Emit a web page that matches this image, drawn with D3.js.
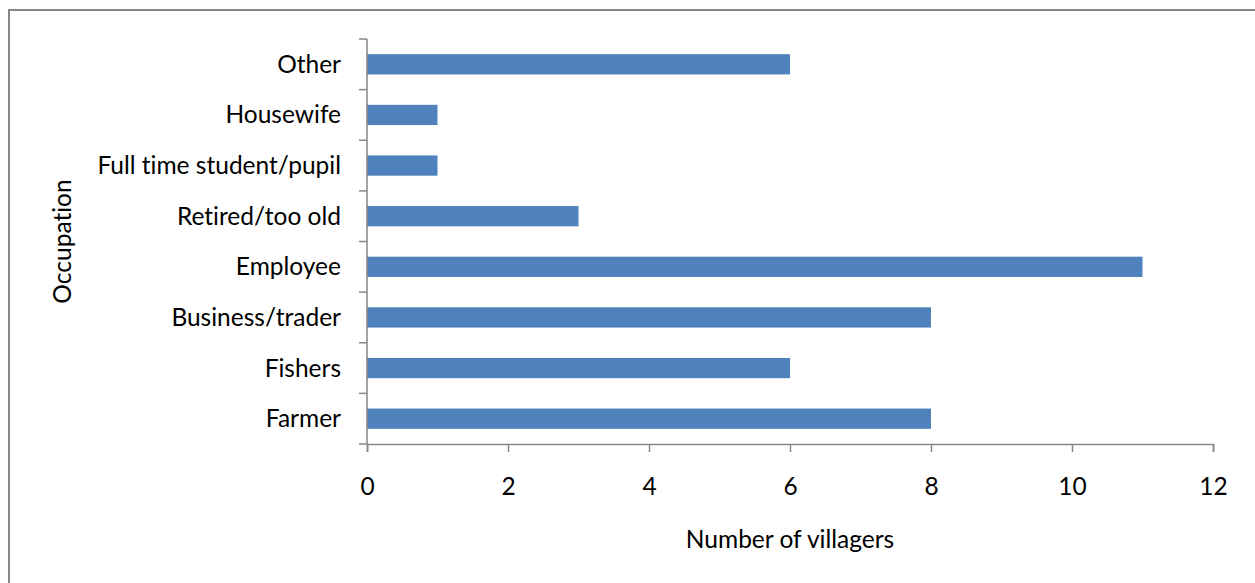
<!DOCTYPE html>
<html>
<head>
<meta charset="utf-8">
<script src="https://cdn.jsdelivr.net/npm/d3@7"></script>
<style>
  html, body { margin: 0; padding: 0; background: #fff; }
  svg { display: block; }
  text { font-family: Lato, "Open Sans", sans-serif; fill: #000; font-variant-ligatures: none; }
</style>
</head>
<body>
<svg id="chart" width="1255" height="583"></svg>
<script>
// Occupation of surveyed villagers
const occupations = ["Other", "Housewife", "Full time student/pupil", "Retired/too old",
                     "Employee", "Business/trader", "Fishers", "Farmer"];
const villagers = [6, 1, 1, 3, 11, 8, 6, 8];
const xTicks = [0, 2, 4, 6, 8, 10, 12];

const data = occupations.map((name, i) => ({ name, value: villagers[i] }));

const svg = d3.select("#chart");
const margin = { left: 367, right: 42, top: 39, bottom: 139 };
const W = 1255, H = 583;
const fontSize = 24.5;

// chart frame
svg.append("rect")
  .attr("x", 9).attr("y", 10)
  .attr("width", W + 10).attr("height", H + 10)
  .attr("fill", "none").attr("stroke", "#868686").attr("stroke-width", 2);

const x = d3.scaleLinear().domain([0, 12]).range([margin.left, W - margin.right]);
const y = d3.scaleBand().domain(occupations)
  .range([margin.top, H - margin.bottom])
  .paddingInner(0.6).paddingOuter(0.3);

// bars
svg.append("g").selectAll("rect").data(data).join("rect")
  .attr("x", x(0))
  .attr("y", d => y(d.name))
  .attr("width", d => x(d.value) - x(0))
  .attr("height", y.bandwidth())
  .attr("fill", "#4F81BD");

const axisColor = "#868686";

// category axis with ticks at band boundaries
const yAxis = svg.append("g").attr("transform", `translate(${x(0)},0)`);
yAxis.append("line")
  .attr("x1", 0).attr("x2", 0)
  .attr("y1", margin.top).attr("y2", H - margin.bottom)
  .attr("stroke", axisColor).attr("stroke-width", 1.5);
const boundaries = d3.range(occupations.length + 1).map(i => margin.top + i * (H - margin.top - margin.bottom) / occupations.length);
yAxis.selectAll("line.tick").data(boundaries).join("line")
  .attr("class", "tick")
  .attr("x1", -8).attr("x2", 0)
  .attr("y1", d => d).attr("y2", d => d)
  .attr("stroke", axisColor).attr("stroke-width", 1.5);
yAxis.selectAll("text").data(occupations).join("text")
  .attr("x", -26)
  .attr("y", d => y(d) + y.bandwidth() / 2 - 1)
  .attr("text-anchor", "end")
  .attr("dominant-baseline", "central")
  .attr("font-size", fontSize)
  .text(d => d);

// value axis
const xAxis = svg.append("g")
  .attr("transform", `translate(0,${H - margin.bottom})`)
  .call(d3.axisBottom(x).tickValues(xTicks).tickSize(8).tickPadding(26).tickFormat(d3.format("d")));
xAxis.select(".domain").attr("stroke", axisColor).attr("stroke-width", 1.5);
xAxis.selectAll(".tick line").attr("stroke", axisColor).attr("stroke-width", 1.5);
xAxis.selectAll(".tick text")
  .attr("font-size", fontSize)
  .attr("font-family", "Lato, 'Open Sans', sans-serif")
  .attr("fill", "#000");

// axis titles
svg.append("text")
  .attr("x", (x(0) + x(12)) / 2)
  .attr("y", 538)
  .attr("text-anchor", "middle")
  .attr("dominant-baseline", "central")
  .attr("font-size", fontSize)
  .text("Number of villagers");

svg.append("text")
  .attr("transform", `translate(61,${(margin.top + H - margin.bottom) / 2}) rotate(-90)`)
  .attr("text-anchor", "middle")
  .attr("dominant-baseline", "central")
  .attr("font-size", fontSize)
  .text("Occupation");
</script>
</body>
</html>
